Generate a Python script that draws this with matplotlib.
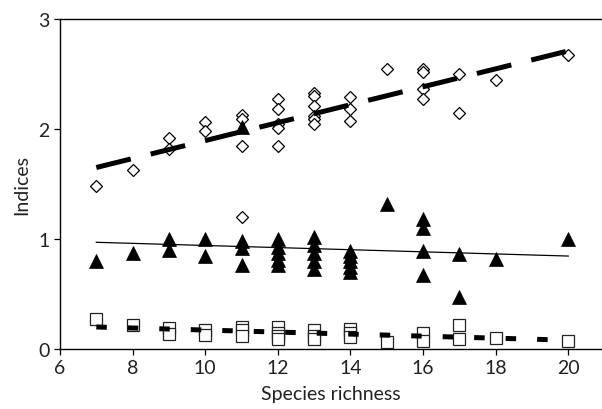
import matplotlib
matplotlib.use("Agg")
import matplotlib.pyplot as plt

plt.rcParams['font.family'] = ['Lato', 'DejaVu Sans']

# Open diamonds (upper series)
diamond_x = [7, 8, 9, 9, 10, 10, 11, 11, 11, 11,
             12, 12, 12, 12, 12, 13, 13, 13, 13, 13, 13,
             14, 14, 14, 15, 16, 16, 16, 16, 17, 17, 18, 20]
diamond_y = [1.48, 1.63, 1.92, 1.82, 2.06, 1.98, 2.13, 2.09, 1.85, 1.20,
             2.27, 2.18, 2.05, 2.01, 1.85, 2.33, 2.30, 2.21, 2.12, 2.09, 2.05,
             2.29, 2.18, 2.07, 2.55, 2.55, 2.52, 2.36, 2.27, 2.50, 2.15, 2.45, 2.67]

# Filled triangles (middle series)
triangle_x = [7, 8, 9, 9, 10, 10, 11, 11, 11, 11,
              12, 12, 12, 12, 12, 13, 13, 13, 13, 13,
              14, 14, 14, 14, 14, 15, 16, 16, 16, 16, 17, 17, 18, 20]
triangle_y = [0.80, 0.87, 1.00, 0.90, 1.00, 0.85, 2.02, 0.98, 0.92, 0.76,
              1.00, 0.93, 0.87, 0.81, 0.76, 1.02, 0.95, 0.87, 0.80, 0.73,
              0.89, 0.85, 0.80, 0.75, 0.70, 1.32, 1.18, 1.10, 0.89, 0.67, 0.86, 0.47, 0.82, 1.00]

# Open squares (lower series)
square_x = [7, 8, 9, 9, 10, 10, 11, 11, 11, 12, 12, 12, 12,
            13, 13, 13, 14, 14, 14, 15, 16, 16, 17, 17, 18, 20]
square_y = [0.27, 0.22, 0.19, 0.14, 0.17, 0.13, 0.20, 0.17, 0.12, 0.20, 0.15, 0.12, 0.09,
            0.17, 0.12, 0.09, 0.18, 0.15, 0.11, 0.06, 0.15, 0.07, 0.22, 0.09, 0.10, 0.07]

# Trend lines (end points)
trend_x = [7, 20]
trend_diamond = [1.65, 2.71]
trend_triangle = [0.97, 0.845]
trend_square = [0.20, 0.08]

x_ticks = [6, 8, 10, 12, 14, 16, 18, 20]
y_ticks = [0, 1, 2, 3]

fig = plt.figure(figsize=(6.02, 4.10), dpi=100)
ax = fig.add_axes([60/602, 1-350/410, 1-60/602, 330/410])

ax.plot(trend_x, trend_diamond, color='black', lw=3.6, dashes=[7.1, 4.1],
        solid_capstyle='butt', dash_capstyle='butt', zorder=3)
ax.plot(trend_x, trend_triangle, color='black', lw=0.9, zorder=3)
ax.plot(trend_x, trend_square, color='black', lw=3.6, dashes=[2.1, 4.2],
        dash_capstyle='butt', zorder=3)

ax.plot(diamond_x, diamond_y, linestyle='none', marker='D', ms=6.2,
        mfc='white', mec='black', mew=0.9, zorder=2)
ax.plot(triangle_x, triangle_y, linestyle='none', marker='^', ms=9.5,
        mfc='black', mec='black', mew=0.5, zorder=2)
ax.plot(square_x, square_y, linestyle='none', marker='s', ms=8.5,
        mfc='white', mec='#222222', mew=0.9, zorder=2)

ax.set_xlim(6, 20.93)
ax.set_ylim(0, 3)
ax.set_xticks(x_ticks)
ax.set_yticks(y_ticks)
ax.spines['right'].set_visible(False)
for s in ['left', 'bottom', 'top']:
    ax.spines[s].set_linewidth(1.0)
ax.tick_params(direction='out', length=4.5, width=0.9, labelsize=14, pad=3,
               labelcolor='#222222')
ax.set_xlabel('Species richness', fontsize=14, labelpad=6, color='#222222')
ax.set_ylabel('Indices', fontsize=14, labelpad=6, color='#222222')

fig.savefig('out.png', dpi=100)
